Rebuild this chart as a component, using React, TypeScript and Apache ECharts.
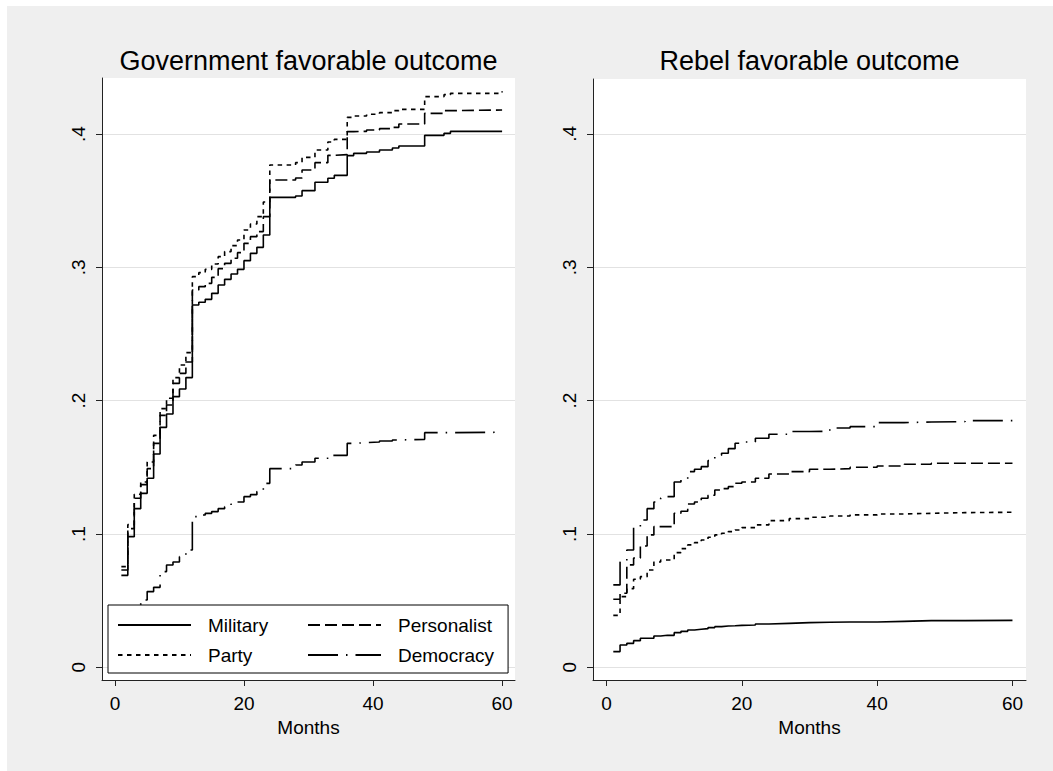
import React, { useEffect, useRef } from "react";
import * as echarts from "echarts";

// ---------- data ----------
const SERIES_NAMES = ["Military", "Party", "Personalist", "Democracy"];
const LEGEND_ORDER = ["Military", "Personalist", "Party", "Democracy"];
const PANEL_TITLES = ["Government favorable outcome", "Rebel favorable outcome"];
const X_TICKS = [0, 20, 40, 60];
const Y_TICKS = [0, 0.1, 0.2, 0.3, 0.4];
const X_NAME = "Months";

// Government favorable outcome (left panel)
const GOV_MONTHS = [
  1, 2, 3, 4, 5, 6, 7, 8, 9, 10, 11, 12, 13, 14, 15, 16, 17, 18, 19, 20, 21, 22, 23, 24,
  28, 29, 31, 33, 34, 36, 37, 39, 41, 43, 44, 48, 51, 52, 60,
];
const GOV_MILITARY = [
  0.069, 0.098, 0.119, 0.1305, 0.1418, 0.16, 0.18, 0.19, 0.203, 0.2088, 0.2173, 0.2718,
  0.2738, 0.276, 0.2805, 0.2868, 0.291, 0.295, 0.2985, 0.305, 0.3105, 0.315, 0.3243, 0.3525,
  0.3535, 0.3575, 0.3638, 0.3668, 0.369, 0.3838, 0.3855, 0.3865, 0.388, 0.3895, 0.391, 0.399,
  0.4005, 0.402, 0.402,
];
const GOV_PARTY = [
  0.0755, 0.107, 0.1298, 0.139, 0.154, 0.174, 0.194, 0.2018, 0.2173, 0.2268, 0.236, 0.293,
  0.296, 0.2985, 0.3025, 0.308, 0.3118, 0.3163, 0.3205, 0.328, 0.3325, 0.338, 0.349, 0.3768,
  0.3785, 0.3825, 0.388, 0.394, 0.396, 0.4125, 0.4135, 0.4148, 0.416, 0.4175, 0.4185, 0.428,
  0.4295, 0.4305, 0.432,
];
const GOV_PERSONALIST = [
  0.073, 0.104, 0.1268, 0.137, 0.149, 0.168, 0.189, 0.1968, 0.213, 0.2205, 0.229, 0.283,
  0.2855, 0.288, 0.2925, 0.299, 0.303, 0.3068, 0.311, 0.318, 0.323, 0.3268, 0.338, 0.3655,
  0.367, 0.373, 0.3785, 0.384, 0.3845, 0.4018, 0.402, 0.403, 0.404, 0.405, 0.4075, 0.4155,
  0.4175, 0.418, 0.4185,
];
const GOV_DEMOCRACY = [
  0.033, 0.042, 0.047, 0.0505, 0.0568, 0.06, 0.0718, 0.0768, 0.079, 0.083, 0.088, 0.113,
  0.1143, 0.1155, 0.1168, 0.119, 0.1205, 0.1225, 0.124, 0.128, 0.1295, 0.1318, 0.138, 0.149,
  0.1518, 0.154, 0.1568, 0.159, 0.159, 0.168, 0.1685, 0.169, 0.1698, 0.1705, 0.171, 0.176,
  0.176, 0.1763, 0.1768,
];

// Rebel favorable outcome (right panel)
const REB_MONTHS = [
  1, 2, 3, 4, 5, 6, 7, 8, 9, 10, 11, 12, 13, 14, 15, 16, 17, 18, 19, 20, 22, 24, 27, 30, 33,
  36, 40, 44, 48, 53, 60,
];
const REB_MILITARY = [
  0.0118, 0.0168, 0.018, 0.02, 0.0218, 0.0218, 0.0235, 0.024, 0.024, 0.026, 0.027, 0.028,
  0.0285, 0.029, 0.0298, 0.0305, 0.031, 0.0312, 0.0315, 0.0318, 0.0325, 0.033, 0.0335, 0.0338,
  0.034, 0.034, 0.0345, 0.035, 0.035, 0.0352, 0.0353,
];
const REB_PARTY = [
  0.039, 0.053, 0.059, 0.066, 0.068, 0.073, 0.079, 0.0805, 0.0805, 0.086, 0.089, 0.0918,
  0.0935, 0.0955, 0.0975, 0.0993, 0.1005, 0.1018, 0.103, 0.1048, 0.1068, 0.11, 0.1115, 0.1125,
  0.1135, 0.1143, 0.115, 0.1155, 0.116, 0.1163, 0.1165,
];
const REB_PERSONALIST = [
  0.051, 0.0555, 0.0768, 0.082, 0.091, 0.0993, 0.1055, 0.1055, 0.1055, 0.1155, 0.117, 0.1225,
  0.124, 0.1268, 0.129, 0.133, 0.134, 0.1355, 0.138, 0.139, 0.1418, 0.145, 0.1468, 0.1485,
  0.149, 0.15, 0.151, 0.1523, 0.153, 0.153, 0.153,
];
const REB_DEMOCRACY = [
  0.0618, 0.079, 0.088, 0.105, 0.1105, 0.119, 0.124, 0.127, 0.128, 0.139, 0.141, 0.1468,
  0.1485, 0.1505, 0.155, 0.159, 0.1605, 0.164, 0.168, 0.169, 0.1718, 0.1748, 0.1768, 0.177,
  0.1795, 0.1805, 0.1835, 0.184, 0.1843, 0.185, 0.185,
];

// ---------- styles ----------
const FONT = "'Liberation Sans', Arial, Helvetica, sans-serif";
const LINE_TYPES: any[] = ["solid", [4.5, 4.5], [12, 5], [30, 8, 1.5, 8]];
const LINE_W = 1.6;

const GRIDS = [
  { left: 95, top: 72, width: 413, height: 602 },
  { left: 586, top: 73, width: 433, height: 601 },
];
const Y_RANGES = [
  { min: -0.0095, max: 0.442 },
  { min: -0.0095, max: 0.4412 },
];

function yFmt(v: number) {
  if (Math.abs(v) < 1e-9) return "0";
  return "." + Math.round(v * 10);
}

export default function App() {
  const ref = useRef<HTMLDivElement>(null);

  useEffect(() => {
    if (!ref.current) return;
    const chart = echarts.init(ref.current, undefined, { renderer: "svg" });

    const panels = [
      { months: GOV_MONTHS, vals: [GOV_MILITARY, GOV_PARTY, GOV_PERSONALIST, GOV_DEMOCRACY] },
      { months: REB_MONTHS, vals: [REB_MILITARY, REB_PARTY, REB_PERSONALIST, REB_DEMOCRACY] },
    ];

    const series: any[] = [];
    panels.forEach((p, gi) => {
      p.vals.forEach((vals, si) => {
        series.push({
          type: "line",
          name: SERIES_NAMES[si],
          xAxisIndex: gi,
          yAxisIndex: gi,
          step: "end",
          symbol: "none",
          silent: true,
          lineStyle: { color: "#000", width: LINE_W, type: LINE_TYPES[si] },
          itemStyle: { color: "#000" },
          data: p.months.map((m, i) => [m, vals[i]]),
        });
      });
    });

    const grid = GRIDS.map((g) => ({
      ...g,
      show: true,
      backgroundColor: "#ffffff",
      borderWidth: 0,
      containLabel: false,
    }));

    const xAxis = GRIDS.map((_, gi) => ({
      type: "value",
      gridIndex: gi,
      min: -2,
      max: 62,
      name: X_NAME,
      nameLocation: "middle",
      nameGap: 36,
      nameTextStyle: { fontSize: 19, color: "#000", fontFamily: FONT },
      axisLine: { show: true, onZero: false, lineStyle: { color: "#222", width: 1 } },
      axisTick: { show: true, length: 6, customValues: X_TICKS, lineStyle: { color: "#222" } },
      axisLabel: { customValues: X_TICKS, fontSize: 19, color: "#000", margin: 14, fontFamily: FONT },
      splitLine: { show: false },
    }));

    const yAxis = GRIDS.map((_, gi) => ({
      type: "value",
      gridIndex: gi,
      min: Y_RANGES[gi].min,
      max: Y_RANGES[gi].max,
      axisLine: { show: true, onZero: false, lineStyle: { color: "#222", width: 1 } },
      axisTick: { show: true, length: 6, customValues: Y_TICKS, lineStyle: { color: "#222" } },
      axisLabel: {
        customValues: Y_TICKS,
        fontSize: 19,
        color: "#000",
        margin: 14,
        rotate: 90,
        fontFamily: FONT,
        formatter: (v: number) => yFmt(v),
      },
      splitLine: { show: true, lineStyle: { color: "#e2e2e2", width: 1.2 } },
    }));

    const titleText = (i: number) => ({
      type: "text",
      z: 5,
      x: GRIDS[i].left + GRIDS[i].width / 2,
      y: 55,
      style: {
        text: PANEL_TITLES[i],
        fontSize: 27,
        fontFamily: FONT,
        fill: "#000",
        align: "center",
        verticalAlign: "middle",
      },
    });

    chart.setOption({
      animation: false,
      backgroundColor: "#efefef",
      textStyle: { fontFamily: FONT },
      grid,
      xAxis,
      yAxis,
      series,
      legend: {
        data: LEGEND_ORDER,
        orient: "horizontal",
        left: 101,
        top: 599,
        width: 380,
        padding: [10, 14, 8, 9],
        itemGap: 10,
        itemWidth: 73,
        itemHeight: 14,
        selectedMode: false,
        backgroundColor: "#ffffff",
        borderColor: "#000",
        borderWidth: 1,
        borderRadius: 0,
        itemStyle: { opacity: 0 },
        textStyle: {
          fontSize: 19,
          color: "#000",
          fontFamily: FONT,
          lineHeight: 20,
          width: 89,
          padding: [0, 0, 0, 12],
        },
      },
      graphic: [titleText(0), titleText(1)],
    });

    return () => chart.dispose();
  }, []);

  return (
    <div style={{ position: "fixed", left: 0, top: 0, width: 1053, height: 771, background: "#fff" }}>
      <div ref={ref} style={{ position: "absolute", left: 7, top: 6, width: 1046, height: 765 }} />
    </div>
  );
}
